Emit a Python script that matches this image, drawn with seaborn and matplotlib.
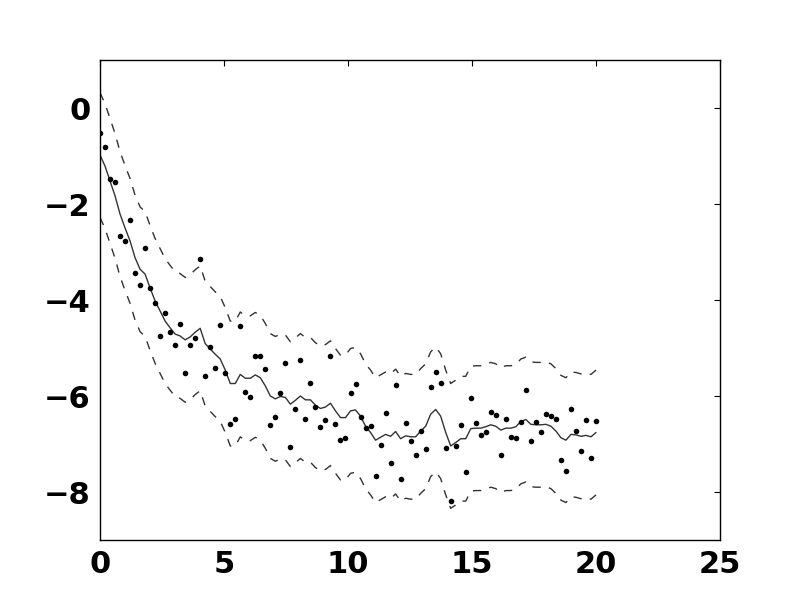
import numpy as np
import pandas as pd
import matplotlib
matplotlib.use("Agg")
import matplotlib.pyplot as plt
import seaborn as sns

# x positions: 100 samples from 0 to 20
x_start, x_stop, n_points = 0.0, 20.0, 100

obs_y = [
    -0.52, -0.82, -1.48, -1.54, -2.67, -2.77, -2.34, -3.44, -3.69, -2.92,
    -3.76, -4.07, -4.74, -4.27, -4.66, -4.94, -4.51, -5.53, -4.94, -4.79,
    -3.15, -5.58, -4.97, -5.42, -4.53, -5.53, -6.59, -6.47, -4.55, -5.92,
    -6.03, -5.17, -5.17, -5.44, -6.61, -6.44, -5.94, -5.32, -7.07, -6.28,
    -5.24, -6.47, -5.72, -6.22, -6.65, -6.49, -5.17, -6.59, -6.92, -6.88,
    -5.94, -5.74, -6.44, -6.67, -6.63, -7.67, -7.03, -6.36, -7.40, -5.78,
    -7.72, -6.57, -6.94, -7.22, -6.72, -7.11, -5.82, -5.51, -5.72, -7.09,
    -8.19, -7.05, -6.61, -7.59, -6.05, -6.57, -6.82, -6.74, -6.34, -6.40,
    -7.22, -6.47, -6.86, -6.88, -6.55, -5.88, -6.94, -6.55, -6.74, -6.38,
    -6.42, -6.47, -7.34, -7.57, -6.28, -6.72, -7.15, -6.51, -7.30, -6.53,
]

smooth_y = [
    -0.98, -1.21, -1.52, -1.83, -2.21, -2.50, -2.77, -3.12, -3.36, -3.46,
    -3.75, -4.02, -4.23, -4.44, -4.58, -4.71, -4.75, -4.83, -4.77, -4.67,
    -4.59, -4.91, -5.02, -5.13, -5.23, -5.46, -5.74, -5.74, -5.55, -5.63,
    -5.63, -5.56, -5.62, -5.79, -6.00, -6.06, -6.01, -6.03, -6.17, -6.09,
    -6.00, -6.08, -6.08, -6.19, -6.26, -6.23, -6.15, -6.31, -6.45, -6.45,
    -6.31, -6.29, -6.42, -6.63, -6.76, -6.92, -6.86, -6.80, -6.84, -6.74,
    -6.89, -6.83, -6.85, -6.85, -6.73, -6.63, -6.38, -6.28, -6.42, -6.76,
    -7.04, -6.97, -6.89, -6.89, -6.68, -6.67, -6.67, -6.64, -6.60, -6.63,
    -6.71, -6.67, -6.67, -6.64, -6.53, -6.49, -6.59, -6.60, -6.60, -6.59,
    -6.63, -6.73, -6.87, -6.92, -6.80, -6.81, -6.84, -6.82, -6.85, -6.76,
]

band_halfwidth = 1.3

x_ticks = [0, 5, 10, 15, 20, 25]
y_ticks = [0, -2, -4, -6, -8]

x = np.linspace(x_start, x_stop, n_points)
df = pd.DataFrame({
    "x": x,
    "obs": obs_y,
    "mean": smooth_y,
})
df["upper"] = df["mean"] + band_halfwidth
df["lower"] = df["mean"] - band_halfwidth

sns.set_style("white")
plt.rcParams["font.family"] = ["DejaVu Sans"]
plt.rcParams["axes.unicode_minus"] = True

fig, ax = plt.subplots(figsize=(8, 6), dpi=100)
fig.subplots_adjust(left=0.125, right=0.9, bottom=0.1, top=0.9)

sns.scatterplot(data=df, x="x", y="obs", ax=ax, color="black", s=16,
                edgecolor="black", linewidth=0, zorder=3, legend=False)
sns.lineplot(data=df, x="x", y="mean", ax=ax, color="#333333", lw=1.0,
             zorder=2, legend=False)
sns.lineplot(data=df, x="x", y="upper", ax=ax, color="#333333", lw=1.0,
             dashes=False, zorder=2, legend=False)
sns.lineplot(data=df, x="x", y="lower", ax=ax, color="#333333", lw=1.0,
             dashes=False, zorder=2, legend=False)
for ln in ax.lines[1:3]:
    ln.set_linestyle((0, (6, 6)))

ax.set_xlim(0, 25)
ax.set_ylim(-9, 1)
ax.set_xticks(x_ticks)
ax.set_yticks(y_ticks)
ax.set_xlabel("")
ax.set_ylabel("")
for sp in ax.spines.values():
    sp.set_visible(True)
    sp.set_color("black")
    sp.set_linewidth(1.0)
ax.tick_params(direction="in", length=4, width=0.8, top=True, right=True,
               labelsize=22, pad=7, colors="black")
for lab in ax.get_xticklabels() + ax.get_yticklabels():
    lab.set_fontweight("bold")

fig.savefig("out.png", dpi=100, facecolor="white")
